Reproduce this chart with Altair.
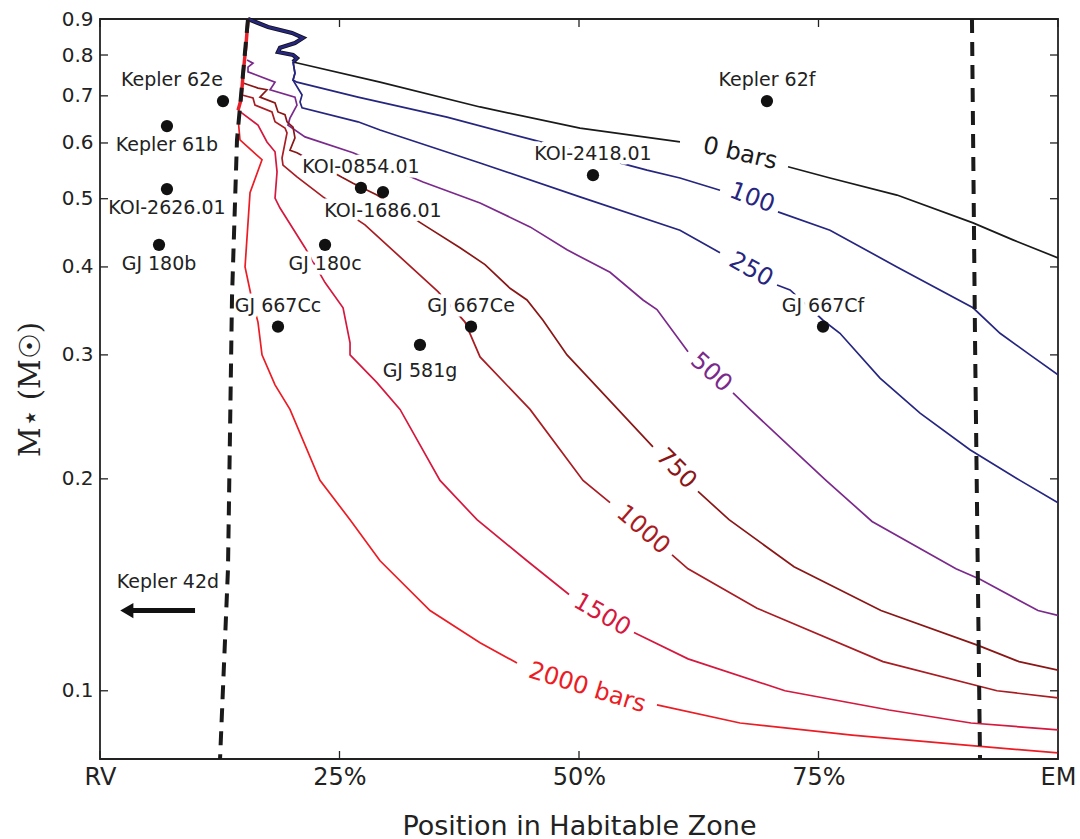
import altair as alt
import pandas as pd

# ---------------- data ----------------
levels = ["0 bars", "100", "250", "500", "750", "1000", "1500", "2000 bars"]
level_colors = ["#1a1a1a", "#262680", "#262680", "#7b2a8c", "#8a1616", "#a81c22", "#d5183e", "#ec1c24"]

c0_hz = [20.15, 29.23, 39.67, 50.10, 60.54, 71.82, 76.20, 83.19, 91.13, 95.30, 100]
c0_m = [0.782, 0.732, 0.675, 0.630, 0.602, 0.555, 0.535, 0.506, 0.462, 0.437, 0.412]
c0_break = 4

c100_hz = [20.15, 20.35, 20.15, 20.56, 26.93, 36.22, 45.20, 57.10, 60.54, 64.72,
           70.77, 76.20, 83.19, 91.13, 93.95, 97.08, 100]
c100_m = [0.782, 0.754, 0.737, 0.732, 0.697, 0.653, 0.606, 0.549, 0.535, 0.514,
          0.479, 0.451, 0.400, 0.350, 0.322, 0.300, 0.281]
c100_break = 9

c250_hz = [20.15, 20.35, 20.15, 21.09, 20.88, 21.09, 26.93, 29.23, 39.67, 50.10, 60.54, 64.72,
           70.67, 72.03, 75.47, 77.24, 81.42, 85.60, 90.81, 96.03, 100]
c250_m = [0.782, 0.754, 0.737, 0.702, 0.686, 0.673, 0.643, 0.626, 0.562, 0.503, 0.451, 0.419,
          0.377, 0.371, 0.336, 0.322, 0.278, 0.248, 0.220, 0.199, 0.185]
c250_break = 11

c500_hz = [15.35, 15.97, 15.45, 15.45, 18.27, 17.75, 20.35, 20.56, 19.83, 19.62, 21.40, 26.41,
           33.72, 39.67, 44.89, 48.75, 53.24, 56.68, 58.14, 61.38,
           66.08, 67.85, 72.03, 75.78, 80.59, 89.35, 91.86, 97.91, 100]
c500_m = [0.787, 0.779, 0.769, 0.757, 0.732, 0.714, 0.697, 0.679, 0.651, 0.636, 0.612, 0.581,
          0.528, 0.493, 0.456, 0.423, 0.393, 0.359, 0.348, 0.303,
          0.265, 0.251, 0.222, 0.199, 0.174, 0.149, 0.144, 0.130, 0.128]
c500_break = 19

c750_hz = [14.93, 16.49, 17.43, 16.70, 18.27, 18.58, 19.31, 19.52, 20.15, 20.35, 19.83, 20.56,
           26.41, 28.91, 34.13, 37.58, 40.19, 42.80, 44.57, 46.24, 48.75, 51.46, 57.72,
           62.42, 65.66, 72.44, 81.52, 91.65, 95.93, 100]
c750_m = [0.730, 0.718, 0.714, 0.697, 0.684, 0.664, 0.658, 0.643, 0.632, 0.610, 0.586, 0.581,
          0.526, 0.506, 0.456, 0.426, 0.403, 0.373, 0.359, 0.336, 0.300, 0.274, 0.222,
          0.192, 0.175, 0.150, 0.130, 0.116, 0.110, 0.107]
c750_break = 22

c1000_hz = [14.82, 15.97, 16.18, 17.95, 18.27, 19.31, 19.52, 19.00, 19.10, 20.56, 23.28, 27.66,
            35.28, 38.10, 39.67, 44.89, 50.42, 53.24,
            59.71, 61.38, 68.58, 81.73, 93.63, 100]
c1000_m = [0.702, 0.695, 0.679, 0.664, 0.643, 0.630, 0.620, 0.571, 0.558, 0.537, 0.503, 0.459,
           0.369, 0.334, 0.298, 0.251, 0.199, 0.185,
           0.156, 0.149, 0.131, 0.110, 0.100, 0.0977]
c1000_break = 17

c1500_hz = [14.41, 16.49, 17.43, 18.27, 18.48, 18.27, 18.79, 21.40, 23.49, 25.37, 26.10, 26.10,
            28.91, 31.32, 35.49, 39.35, 44.57, 48.96,
            55.74, 61.38, 71.50, 82.36, 90.92, 100]
c1500_m = [0.668, 0.636, 0.602, 0.583, 0.546, 0.501, 0.485, 0.426, 0.380, 0.350, 0.312, 0.300,
           0.274, 0.251, 0.199, 0.175, 0.153, 0.137,
           0.121, 0.111, 0.100, 0.0939, 0.0900, 0.0880]
c1500_break = 17

c2000_hz = [14.41, 14.61, 16.91, 15.66, 15.14, 15.87, 16.49, 16.91, 18.27, 19.83, 22.96, 26.10,
            29.23, 34.45, 39.67, 43.53,
            58.14, 66.81, 78.50, 90.08, 100]
c2000_m = [0.651, 0.606, 0.568, 0.510, 0.400, 0.359, 0.334, 0.300, 0.272, 0.251, 0.199, 0.175,
           0.153, 0.130, 0.117, 0.1095,
           0.0955, 0.0900, 0.0865, 0.0838, 0.0816]
c2000_break = 15

# shared ragged edge at the top (0/100/250 bar contours) and red inner edge
top_edge_hz = [15.45, 17.54, 20.04, 21.19, 20.35, 18.79, 18.58, 20.15, 20.56, 20.15]
top_edge_m = [0.90, 0.877, 0.860, 0.846, 0.832, 0.819, 0.808, 0.800, 0.792, 0.782]
red_edge_hz = [15.45, 15.24, 14.93, 14.72, 14.41]
red_edge_m = [0.90, 0.827, 0.749, 0.691, 0.668]

# contour labels
clabel_text = ["0 bars", "100", "250", "500", "750", "1000", "1500", "2000 bars"]
clabel_hz = [66.81, 68.06, 67.95, 63.78, 60.13, 56.68, 52.40, 50.84]
clabel_m = [0.579, 0.501, 0.396, 0.283, 0.2066, 0.1692, 0.1281, 0.1009]
clabel_angle = [13, 21, 29, 42, 45, 41, 30, 17]

# habitable-zone boundaries (dashed)
inner_hz = [15.45, 14.30, 13.78, 13.36, 12.53]
inner_m = [0.90, 0.606, 0.3625, 0.149, 0.08]
outer_hz = [91.02, 91.34, 91.86]
outer_m = [0.90, 0.315, 0.08]

# planets
planet_names = ["Kepler 62e", "Kepler 61b", "KOI-2626.01", "GJ 180b", "GJ 180c", "GJ 667Cc",
                "GJ 667Ce", "GJ 667Cf", "GJ 581g", "KOI-0854.01", "KOI-1686.01", "KOI-2418.01",
                "Kepler 62f"]
planet_hz = [12.84, 6.99, 6.99, 6.16, 23.49, 18.58, 38.73, 75.47, 33.40, 27.24, 29.54, 51.46, 69.62]
planet_m = [0.688, 0.634, 0.516, 0.430, 0.430, 0.329, 0.329, 0.329, 0.310, 0.518, 0.511, 0.540, 0.688]
planet_place = ["upleft", "below", "below", "below", "below", "above", "above", "above",
                "below2", "above", "below", "above", "above"]

# Kepler 42d (off the chart to the left)
k42_hz = [9.92, 2.80]
k42_m = [0.13, 0.13]

x_ticks = [0, 25, 50, 75, 100]
y_ticks = [0.1, 0.2, 0.3, 0.4, 0.5, 0.6, 0.7, 0.8, 0.9]

# ---------------- build tables ----------------
contours = [
    (c0_hz, c0_m, c0_break), (c100_hz, c100_m, c100_break), (c250_hz, c250_m, c250_break),
    (c500_hz, c500_m, c500_break), (c750_hz, c750_m, c750_break),
    (c1000_hz, c1000_m, c1000_break), (c1500_hz, c1500_m, c1500_break),
    (c2000_hz, c2000_m, c2000_break),
]
rows = []
for lev, (xs, ms, brk) in zip(levels, contours):
    for i, (xv, mv) in enumerate(zip(xs, ms)):
        seg = lev + ("_a" if i <= brk else "_b")
        rows.append({"level": lev, "seg": seg, "i": i, "hz": xv, "m": mv})
df_lines = pd.DataFrame(rows)

df_top = pd.DataFrame({"hz": top_edge_hz, "m": top_edge_m, "i": range(len(top_edge_hz))})
df_red = pd.DataFrame({"hz": red_edge_hz, "m": red_edge_m, "i": range(len(red_edge_hz))})
df_clab = pd.DataFrame({"level": levels, "txt": clabel_text, "hz": clabel_hz,
                        "m": clabel_m, "ang": clabel_angle})
df_bound = pd.DataFrame(
    [{"b": "inner", "i": i, "hz": x, "m": m} for i, (x, m) in enumerate(zip(inner_hz, inner_m))]
    + [{"b": "outer", "i": i, "hz": x, "m": m} for i, (x, m) in enumerate(zip(outer_hz, outer_m))]
)
df_pl = pd.DataFrame({"name": planet_names, "hz": planet_hz, "m": planet_m, "place": planet_place})
df_k42 = pd.DataFrame({"hz": k42_hz, "m": k42_m, "i": [0, 1]})
df_k42_tip = df_k42.iloc[[1]]
df_k42_lab = pd.DataFrame({"name": ["Kepler 42d"], "hz": [sum(k42_hz) / 2], "m": [k42_m[0]]})
df_xt = pd.DataFrame({"hz": x_ticks})
df_yt = pd.DataFrame({"m": y_ticks})

# ---------------- scales / encodings ----------------
FONT = "DejaVu Sans"
INK = "#222222"
xscale = alt.Scale(domain=[0, 100], nice=False, zero=False)
yscale = alt.Scale(type="log", domain=[0.08, 0.9], nice=False)
cscale = alt.Scale(domain=levels, range=level_colors)

x_axis = alt.Axis(
    values=x_ticks,
    labelExpr="datum.value == 0 ? 'RV' : (datum.value == 100 ? 'EM' : datum.value + '%')",
    labelFont=FONT, labelFontSize=24, labelColor=INK, labelPadding=6,
    ticks=False, domain=False, grid=False, labelFlush=False, labelOverlap=False,
    title="Position in Habitable Zone", titleFont=FONT, titleFontSize=27,
    titleFontWeight="normal", titleColor=INK, titleY=75, titleBaseline="alphabetic",
)
y_axis = alt.Axis(
    values=y_ticks, format=".1f",
    labelFont=FONT, labelFontSize=20, labelColor=INK, labelPadding=7,
    ticks=False, domain=False, grid=False, labelFlush=False, labelOverlap=False,
    title="M⋆ (M☉)", titleFont="DejaVu Serif", titleFontSize=29, titleFontWeight="normal",
    titleColor=INK, titleX=-70, titleBaseline="middle",
)


def X():
    return alt.X("hz:Q", scale=xscale, axis=x_axis)


def Y():
    return alt.Y("m:Q", scale=yscale, axis=y_axis)


lines = alt.Chart(df_lines).mark_line(strokeWidth=1.7, clip=True).encode(
    x=X(), y=Y(),
    color=alt.Color("level:N", scale=cscale, legend=None),
    detail="seg:N", order="i:Q",
)
top_under = alt.Chart(df_top).mark_line(color="#111111", strokeWidth=4.2).encode(
    x=X(), y=Y(), order="i:Q")
top_over = alt.Chart(df_top).mark_line(color="#262680", strokeWidth=2.6).encode(
    x=X(), y=Y(), order="i:Q")
red_edge = alt.Chart(df_red).mark_line(color="#e8202a", strokeWidth=3.5).encode(
    x=X(), y=Y(), order="i:Q")

clabels = alt.Chart(df_clab).mark_text(font=FONT, fontSize=24, baseline="middle", align="center").encode(
    x=X(), y=Y(), text="txt:N",
    color=alt.Color("level:N", scale=cscale, legend=None),
    angle=alt.Angle("ang:Q", scale=None),
)

bounds = alt.Chart(df_bound).mark_line(color="#1a1a1a", strokeWidth=4, strokeDash=[14, 9]).encode(
    x=X(), y=Y(), detail="b:N", order="i:Q")

offsets = {"above": (0, -21), "below": (0, 19), "below2": (0, 26), "upleft": (-51, -21)}
halo_layers = []
text_layers = []
for place, (dx, dy) in offsets.items():
    sub = df_pl[df_pl["place"] == place]
    halo_layers.append(
        alt.Chart(sub).mark_text(font=FONT, fontSize=19, dx=dx, dy=dy, fill="white",
                                 stroke="white", strokeWidth=9, strokeJoin="round")
        .encode(x=X(), y=Y(), text="name:N"))
    text_layers.append(
        alt.Chart(sub).mark_text(font=FONT, fontSize=19, dx=dx, dy=dy, color=INK)
        .encode(x=X(), y=Y(), text="name:N"))

dots = alt.Chart(df_pl).mark_circle(size=150, color="#111111", opacity=1).encode(x=X(), y=Y())

k42_shaft = alt.Chart(df_k42).mark_line(color="#111111", strokeWidth=5, strokeCap="butt").encode(
    x=X(), y=Y(), order="i:Q")
k42_head = alt.Chart(df_k42_tip).mark_point(shape="triangle-left", size=230, filled=True,
                                             color="#111111", opacity=1).encode(x=X(), y=Y())
k42_text = alt.Chart(df_k42_lab).mark_text(font=FONT, fontSize=19, color=INK, dx=7, dy=-29).encode(
    x=X(), y=Y(), text="name:N")

tick_style = dict(color=INK, strokeWidth=1.3)
xt_bottom = alt.Chart(df_xt).mark_rule(**tick_style).encode(x=X(), y=alt.value(740), y2=alt.value(732))
xt_top = alt.Chart(df_xt).mark_rule(**tick_style).encode(x=X(), y=alt.value(0), y2=alt.value(8))
yt_left = alt.Chart(df_yt).mark_rule(**tick_style).encode(y=Y(), x=alt.value(0), x2=alt.value(8))
yt_right = alt.Chart(df_yt).mark_rule(**tick_style).encode(y=Y(), x=alt.value(958), x2=alt.value(950))

chart = alt.layer(
    lines, top_under, top_over, red_edge, clabels,
    *halo_layers, bounds, *text_layers, dots,
    k42_shaft, k42_head, k42_text,
    xt_bottom, xt_top, yt_left, yt_right,
).properties(
    width=958, height=740,
    padding={"left": 100, "top": 19, "right": 22, "bottom": 80},
    autosize=alt.AutoSizeParams(type="none"),
    background="white",
).configure_view(
    stroke="#222222", strokeWidth=1.8
)

chart.save("out.html", embed_options={"renderer": "svg", "actions": False})
